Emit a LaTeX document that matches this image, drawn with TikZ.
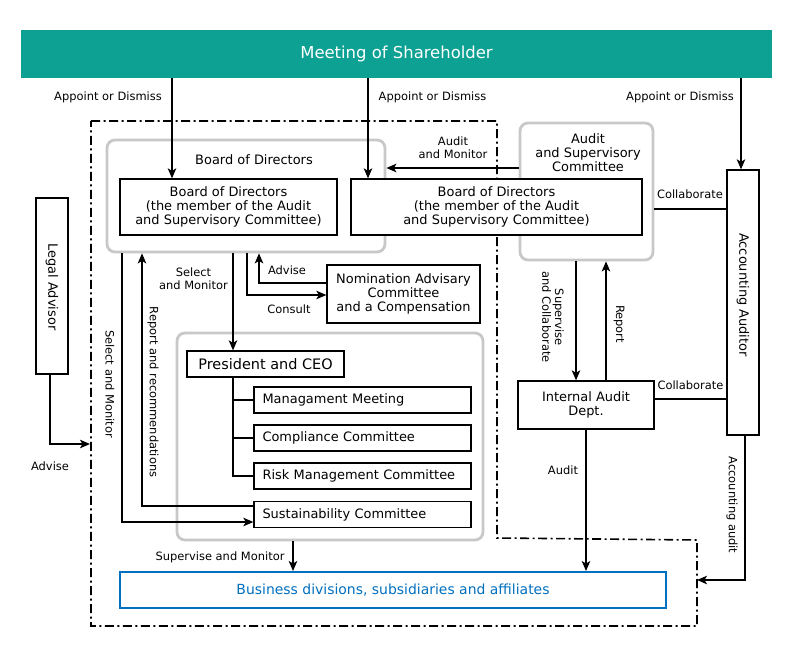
\documentclass[tikz,border=0pt]{standalone}
\usepackage{fontspec}
\setmainfont{DejaVu Sans}
\usetikzlibrary{arrows.meta,calc}
\definecolor{teal1}{RGB}{13,161,148}
\definecolor{grayline}{RGB}{200,200,200}
\definecolor{bizblue}{RGB}{0,112,192}
\tikzset{
  box/.style={draw=black, line width=1.3bp, fill=white, inner sep=0pt, align=center,
    font=\fontsize{13}{14}\selectfont},
  grp/.style={draw=grayline, line width=2.8bp, rounded corners=8bp, inner sep=0pt},
  lbl/.style={inner sep=0pt, align=center, font=\fontsize{11.5}{13}\selectfont},
  con/.style={line width=1.3bp},
  arr/.style={con, -{Stealth[length=10bp,width=8.5bp,inset=2.5bp]}},
  bound/.style={line width=1.6bp, dash pattern=on 9bp off 3.5bp on 2bp off 3.5bp},
}
\begin{document}
\begin{tikzpicture}[x=1bp,y=-1bp]
\useasboundingbox (0,0) rectangle (795,646);
\fill[white] (0,0) rectangle (795,646);

% boundary (dash-dot)
\draw[bound] (91,121) -- (497,121) -- (497,538) -- (697,540) -- (697,626) -- (91,626) -- cycle;

% banner
\node[fill=teal1, minimum width=751bp, minimum height=48bp, inner sep=0pt,
  text=white, font=\fontsize{16.5}{18}\selectfont] (banner) at (396.5,54) {Meeting of Shareholder};

% gray groups
\node[grp, minimum width=278bp, minimum height=112bp] (bodgrp) at (246,196) {};
\node[lbl, font=\fontsize{13}{14}\selectfont] (bodgrplbl) at (254,160) {Board of Directors};
\node[grp, fill=white, minimum width=133bp, minimum height=137bp] (asc) at (586.5,191.5) {};
\node[lbl, font=\fontsize{13}{14}\selectfont] (asclbl) at (588,153) {Audit\\and Supervisory\\Committee};
\node[grp, minimum width=306bp, minimum height=207bp] (execgrp) at (330,436.5) {};

% boxes
\node[box, minimum width=217bp, minimum height=56bp] (bodL) at (228.5,207)
  {Board of Directors\\(the member of the Audit\\and Supervisory Committee)};
\node[box, minimum width=291bp, minimum height=56bp] (bodR) at (496.5,207)
  {Board of Directors\\(the member of the Audit\\and Supervisory Committee)};
\node[box, minimum width=32bp, minimum height=265bp] (acc) at (743,302.5) {};
\node[lbl, rotate=-90, font=\fontsize{13}{14}\selectfont] (acclbl) at (743,295) {Accounting Auditor};
\node[box, minimum width=32bp, minimum height=176bp] (legal) at (52,286) {};
\node[lbl, rotate=-90, font=\fontsize{13}{14}\selectfont] (legallbl) at (52,287) {Legal Advisor};
\node[box, minimum width=153bp, minimum height=58bp] (nom) at (403.5,294)
  {Nomination Advisary\\Committee\\and a Compensation};
\node[box, minimum width=157bp, minimum height=26bp, font=\fontsize{14.5}{16}\selectfont] (pres) at (265.5,364) {President and CEO};
\node[box, minimum width=217bp, minimum height=26bp, align=left, text width=200bp] (mm) at (362.5,400) {Managament Meeting};
\node[box, minimum width=217bp, minimum height=26bp, align=left, text width=200bp] (cc) at (362.5,438) {Compliance Committee};
\node[box, minimum width=217bp, minimum height=26bp, align=left, text width=200bp] (rm) at (362.5,476) {Risk Management Committee};
\node[box, minimum width=217bp, minimum height=26bp, align=left, text width=200bp] (sc) at (362.5,514.5) {Sustainability Committee};
\node[box, minimum width=136bp, minimum height=48bp] (iad) at (586,405) {Internal Audit\\Dept.};
\node[box, draw=bizblue, line width=2bp, text=bizblue, minimum width=546bp, minimum height=36bp,
  font=\fontsize{14}{15}\selectfont] (biz) at (393,590) {Business divisions, subsidiaries and affiliates};

% reference coordinates
\coordinate (xa) at (172,0);
\coordinate (xb) at (368,0);
\coordinate (xc) at (741,0);
\coordinate (yam) at (0,168);
\coordinate (ycol1) at (0,209);
\coordinate (advtip) at (90,444);
\coordinate (xlegal) at (50,0);
\coordinate (xsel) at (122,0);
\coordinate (ysel) at (0,522);
\coordinate (xrep) at (142,0);
\coordinate (yrep) at (0,506);
\coordinate (xpres) at (233,0);
\coordinate (xcons) at (247,0);
\coordinate (ycons) at (0,295);
\coordinate (xadv) at (259,0);
\coordinate (yadv) at (0,283);
\coordinate (xsup) at (293,0);
\coordinate (xsc) at (576,0);
\coordinate (xrp) at (606,0);
\coordinate (ycol2) at (0,399);
\coordinate (xaud) at (586,0);
\coordinate (xaa) at (745,0);
\coordinate (aatip) at (697,580);

% connectors
\draw[arr] (banner.south -| xa) -- (bodL.north -| xa);
\draw[arr] (banner.south -| xb) -- (bodR.north -| xb);
\draw[arr] (banner.south -| xc) -- (acc.north -| xc);
\node[lbl] (l1) at (108,97) {Appoint or Dismiss};
\node[lbl] (l2) at (432.5,97) {Appoint or Dismiss};
\node[lbl] (l3) at (680,97) {Appoint or Dismiss};

\draw[arr] (asc.west |- yam) -- (bodgrp.east |- yam);
\node[lbl] (l4) at (453,148) {Audit\\and Monitor};
\draw[con] (asc.east |- ycol1) -- (acc.west |- ycol1);
\node[lbl] (l5) at (690,194) {Collaborate};

\draw[arr] (legal.south -| xlegal) |- (advtip);
\node[lbl] (l6) at (50,466) {Advise};

\draw[arr] (bodgrp.south -| xsel) |- (sc.west |- ysel);
\node[lbl, rotate=-90] (l7) at (110,384) {Select and Monitor};
\draw[arr] (sc.west |- yrep) -| (bodgrp.south -| xrep);
\node[lbl, rotate=-90] (l8) at (153,392) {Report and recommendations};

\draw[arr] (bodgrp.south -| xpres) -- (pres.north -| xpres);
\node[lbl] (l9) at (193.5,278.5) {Select\\and Monitor};
\draw[arr] (bodgrp.south -| xcons) |- (nom.west |- ycons);
\node[lbl] (l10) at (289,309) {Consult};
\draw[arr] (nom.west |- yadv) -| (bodgrp.south -| xadv);
\node[lbl] (l11) at (287,270) {Advise};

\draw[con] (pres.south -| xpres) |- (rm.west);
\draw[con] (mm.west -| xpres) -- (mm.west);
\draw[con] (cc.west -| xpres) -- (cc.west);

\draw[arr] (execgrp.south -| xsup) -- (biz.north -| xsup);
\node[lbl] (l12) at (220,557) {Supervise and Monitor};

\draw[arr] (asc.south -| xsc) -- (iad.north -| xsc);
\node[lbl, rotate=-90] (l13) at (553,317) {Supervise\\and Collaborate};
\draw[arr] (iad.north -| xrp) -- (asc.south -| xrp);
\node[lbl, rotate=-90] (l14) at (619,324) {Report};
\draw[con] (iad.east |- ycol2) -- (acc.west |- ycol2);
\node[lbl] (l15) at (690.5,385) {Collaborate};
\draw[arr] (iad.south -| xaud) -- (biz.north -| xaud);
\node[lbl] (l16) at (563,470) {Audit};
\draw[arr] (acc.south -| xaa) |- (aatip);
\node[lbl, rotate=-90] (l17) at (732,505) {Accounting audit};
\end{tikzpicture}
\end{document}
